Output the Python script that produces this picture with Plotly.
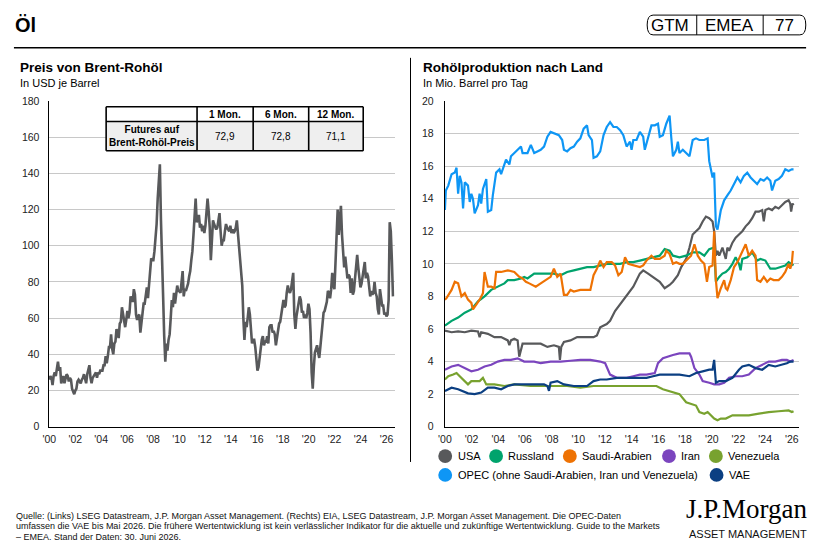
import plotly.graph_objects as go

W, H = 817, 557
FONT = "Liberation Sans, Arial, sans-serif"
NARROW = "Liberation Sans Narrow, Arial Narrow, Liberation Sans, Arial, sans-serif"

# ---------------- DATA ----------------
# Brent crude, USD per barrel, monthly Jan 2000 .. Jun 2026
brent = [
    26, 28, 27, 23, 28, 30, 28, 31, 36, 31, 33, 24,
    26, 28, 24, 27, 29, 28, 25, 27, 26, 21, 19, 18,
    20, 21, 25, 26, 25, 24, 26, 27, 29, 27, 24, 29,
    32, 34, 27, 24, 27, 28, 29, 30, 27, 30, 29, 31,
    31, 31, 34, 34, 39, 35, 39, 44, 44, 51, 43, 40,
    46, 47, 54, 51, 49, 57, 58, 66, 62, 58, 55, 59,
    64, 60, 63, 72, 70, 69, 76, 73, 62, 59, 61, 62,
    52, 58, 63, 68, 68, 72, 77, 71, 78, 85, 93, 92,
    92, 97, 104, 112, 126, 134, 145, 114, 98, 72, 50, 36,
    46, 42, 48, 51, 60, 70, 66, 74, 68, 75, 78, 75,
    75, 74, 80, 86, 72, 76, 75, 77, 79, 83, 86, 92,
    97, 106, 115, 126, 113, 114, 117, 110, 112, 108, 111, 107,
    111, 120, 126, 119, 110, 92, 103, 114, 112, 110, 109, 110,
    113, 118, 108, 100, 103, 103, 108, 112, 110, 109, 108, 111,
    107, 109, 107, 108, 110, 114, 107, 102, 96, 86, 78, 60,
    48, 58, 55, 60, 66, 62, 55, 46, 48, 48, 44, 37,
    31, 33, 39, 43, 48, 50, 45, 47, 47, 50, 46, 55,
    56, 56, 52, 53, 51, 45, 49, 52, 57, 58, 63, 66,
    70, 66, 67, 74, 78, 75, 74, 76, 80, 85, 62, 54,
    61, 65, 67, 72, 70, 63, 64, 60, 62, 60, 63, 68,
    65, 52, 30, 21, 33, 41, 43, 45, 41, 38, 44, 50,
    55, 63, 64, 66, 69, 75, 74, 71, 76, 85, 78, 76,
    89, 100, 120, 106, 113, 122, 106, 97, 88, 94, 87, 82,
    84, 83, 74, 82, 73, 75, 82, 87, 95, 88, 81, 77,
    79, 83, 86, 91, 82, 85, 83, 77, 72, 75, 73, 74,
    80, 74, 72, 65, 62, 76, 70, 67, 67, 62, 63, 61,
    62, 70, 113, 108, 92, 72,
]
brent_start, brent_end = 2000.0, 2026.5

# Production, million barrels per day: (years since 2000, value)
usa = [(0,5.9),(0.50,5.8),(0.99,5.85),(1.49,5.8),(1.98,5.9),(2.48,5.85),(2.60,5.5),(2.72,5.8),(3.22,5.7),(3.71,5.5),(4.21,5.5),(4.71,5.3),(4.83,5.0),(4.95,5.3),(5.20,5.4),(5.45,5.3),(5.57,4.3),(5.70,4.8),(5.82,5.1),(6.19,5.1),(6.69,5.1),(7.18,5.1),(7.68,4.9),(8.17,5.0),(8.54,4.9),(8.62,4.1),(8.72,4.9),(8.92,5.2),(9.41,5.3),(9.91,5.5),(10.40,5.5),(10.77,5.5),(11.14,5.5),(11.39,5.6),(11.64,6.1),(12.13,6.3),(12.38,6.5),(12.75,7.1),(13.13,7.5),(13.62,8.0),(14.12,8.6),(14.61,9.4),(14.86,9.6),(15.23,9.4),(15.60,9.2),(16.10,8.9),(16.47,8.5),(16.84,8.7),(17.09,8.9),(17.46,9.3),(17.71,9.8),(18.08,10.3),(18.33,11.0),(18.57,11.8),(18.82,12.0),(19.07,12.2),(19.32,12.6),(19.56,12.9),(19.81,12.8),(20.06,12.6),(20.18,12.0),(20.31,10.5),(20.43,10.8),(20.56,10.5),(20.80,11.0),(21.05,10.3),(21.17,11.0),(21.30,10.8),(21.55,11.3),(21.79,11.6),(22.04,11.8),(22.29,12.0),(22.54,12.3),(22.78,12.5),(23.03,12.8),(23.28,13.2),(23.53,13.2),(23.78,13.3),(23.90,12.6),(24.02,13.3),(24.27,13.4),(24.52,13.3),(24.76,13.5),(25.01,13.4),(25.26,13.6),(25.51,13.8),(25.76,13.9),(25.88,13.7),(25.95,13.2),(26.05,13.7),(26.13,13.6)]
russland = [(0,6.2),(0.50,6.5),(0.99,6.7),(1.49,7.0),(1.98,7.2),(2.48,7.7),(2.97,8.0),(3.47,8.4),(3.96,8.6),(4.46,8.8),(4.71,9.0),(5.20,9.0),(5.70,9.1),(5.94,9.2),(6.19,9.1),(6.69,9.4),(7.18,9.4),(7.68,9.4),(8.17,9.4),(8.67,9.3),(9.16,9.5),(9.66,9.6),(10.15,9.7),(10.65,9.8),(11.14,9.8),(11.64,9.9),(12.13,10.0),(12.63,10.0),(13.13,10.0),(13.62,10.1),(14.12,10.1),(14.61,10.2),(15.11,10.3),(15.60,10.4),(16.10,10.5),(16.47,10.9),(16.84,10.8),(17.09,10.5),(17.58,10.4),(18.08,10.5),(18.57,10.7),(19.07,10.7),(19.44,10.5),(19.81,10.9),(20.18,11.0),(20.31,8.9),(20.56,9.2),(20.80,9.4),(21.05,9.5),(21.30,9.7),(21.55,10.0),(21.79,10.4),(22.04,10.0),(22.16,9.6),(22.29,10.3),(22.66,10.4),(23.03,10.7),(23.40,10.2),(23.65,10.3),(24.02,10.2),(24.39,9.7),(24.76,9.7),(25.14,9.8),(25.51,9.9),(25.76,10.1),(26.00,10.0),(26.13,9.9)]
saudi = [(0,7.8),(0.12,7.9),(0.50,8.4),(0.74,8.9),(0.99,8.8),(1.24,8.0),(1.49,8.2),(1.73,7.8),(1.98,7.6),(2.10,7.2),(2.35,7.5),(2.60,7.8),(2.85,8.2),(2.97,9.5),(3.22,8.6),(3.47,8.6),(3.71,8.5),(3.84,9.5),(4.21,9.5),(4.71,9.6),(5.20,9.5),(5.57,9.2),(5.82,9.1),(6.07,8.9),(6.32,8.8),(6.56,8.7),(6.81,8.6),(7.18,8.8),(7.55,9.0),(7.92,9.2),(8.17,9.7),(8.42,9.2),(8.67,9.4),(8.92,8.1),(9.16,8.1),(9.41,8.4),(9.66,8.3),(10.15,8.4),(10.65,8.4),(10.90,8.4),(11.14,9.3),(11.39,9.7),(11.64,10.2),(11.89,9.8),(12.13,10.1),(12.50,10.1),(12.75,9.9),(13.00,9.3),(13.25,9.5),(13.50,10.4),(13.74,10.0),(14.12,9.9),(14.61,9.8),(14.86,9.9),(15.11,10.2),(15.48,10.5),(15.73,10.3),(16.10,10.3),(16.47,10.5),(16.59,10.8),(16.84,10.6),(17.09,10.0),(17.34,10.1),(17.58,10.0),(17.83,10.0),(18.20,10.3),(18.45,10.5),(18.70,11.2),(18.95,10.5),(19.19,10.2),(19.44,10.0),(19.64,8.9),(19.81,9.8),(20.06,9.9),(20.18,12.0),(20.31,9.0),(20.43,7.9),(20.68,8.5),(20.93,9.0),(21.05,8.5),(21.17,8.4),(21.42,9.0),(21.67,9.8),(21.92,10.1),(22.16,10.5),(22.54,11.2),(22.78,10.5),(23.03,10.8),(23.28,10.5),(23.40,9.0),(23.65,8.9),(23.90,9.2),(24.15,8.9),(24.39,9.1),(24.64,9.0),(25.01,9.0),(25.26,9.2),(25.51,9.5),(25.76,10.0),(25.88,9.7),(26.00,10.0),(26.08,10.8)]
iran = [(0,3.5),(0.50,3.7),(0.99,3.8),(1.49,3.6),(1.98,3.4),(2.48,3.5),(2.97,3.7),(3.47,3.8),(3.96,4.0),(4.46,4.1),(4.95,4.1),(5.45,4.2),(5.94,4.0),(6.69,4.0),(7.18,3.9),(7.92,4.0),(8.67,4.0),(9.41,4.05),(10.15,4.1),(10.90,4.1),(11.64,4.0),(12.01,3.9),(12.38,3.2),(12.88,3.0),(13.62,3.0),(14.12,3.1),(14.61,3.2),(15.11,3.2),(15.73,3.3),(15.97,3.9),(16.34,4.2),(17.09,4.4),(17.58,4.5),(18.08,4.5),(18.33,4.5),(18.45,4.3),(18.70,3.6),(19.07,3.2),(19.32,2.8),(19.81,2.7),(20.18,2.6),(20.56,2.6),(20.93,2.7),(21.30,3.0),(21.79,3.1),(22.29,3.1),(22.78,3.2),(23.28,3.6),(23.78,3.8),(24.27,4.0),(24.76,4.0),(25.26,4.1),(25.63,4.1),(25.88,4.0),(26.13,4.1)]
venezuela = [(0,2.9),(0.25,3.1),(0.62,3.2),(0.87,3.3),(1.11,3.1),(1.49,2.8),(1.73,2.6),(1.98,2.8),(2.35,2.8),(2.60,2.8),(2.85,3.0),(3.10,2.6),(3.34,2.6),(3.71,2.6),(4.46,2.5),(5.20,2.6),(6.44,2.5),(7.68,2.5),(9.16,2.5),(10.15,2.4),(11.14,2.5),(12.63,2.5),(14.61,2.5),(15.85,2.5),(16.34,2.3),(17.09,2.1),(17.58,2.0),(18.08,1.5),(18.82,1.3),(19.07,0.9),(19.44,0.8),(19.69,0.9),(19.93,0.7),(20.18,0.5),(20.43,0.4),(20.68,0.5),(21.05,0.5),(21.55,0.7),(22.04,0.7),(22.78,0.7),(23.53,0.8),(24.27,0.9),(25.01,0.95),(25.51,1.0),(25.76,1.0),(26.00,0.9),(26.13,0.95)]
opec = [(0,13.3),(0.07,14.5),(0.25,14.8),(0.5,15.5),(0.74,15.6),(0.87,15.9),(0.99,14.3),(1.11,15.4),(1.24,15.0),(1.36,13.4),(1.49,15.0),(1.73,14.8),(1.86,13.8),(1.98,14.3),(2.10,14.0),(2.23,13.1),(2.48,13.6),(2.60,14.3),(2.72,13.7),(2.85,14.6),(3.10,15.2),(3.22,13.2),(3.47,13.3),(3.59,14.2),(3.84,15.6),(4.09,15.8),(4.21,15.5),(4.46,16.2),(4.58,16.4),(4.83,16.1),(4.95,16.6),(5.20,16.8),(5.45,17.0),(5.70,17.2),(5.82,16.8),(6.19,16.8),(6.44,17.3),(6.69,16.8),(6.93,16.9),(7.18,17.0),(7.43,17.2),(7.68,17.8),(7.92,18.1),(8.17,18.0),(8.54,17.9),(8.79,17.6),(8.92,17.0),(9.16,16.9),(9.41,17.1),(9.66,17.2),(9.91,17.5),(10.15,17.7),(10.40,18.3),(10.65,18.5),(10.77,17.9),(11.02,17.6),(11.14,16.5),(11.39,16.6),(11.64,16.9),(11.89,17.9),(12.13,18.4),(12.38,18.7),(12.63,18.4),(12.88,18.4),(13.13,18.2),(13.37,17.9),(13.62,17.2),(13.87,17.5),(13.99,17.0),(14.12,17.6),(14.36,17.6),(14.61,18.1),(14.86,17.8),(14.98,17.0),(15.23,17.8),(15.48,18.5),(15.73,18.5),(15.97,18.6),(16.10,17.8),(16.34,17.9),(16.59,18.6),(16.84,19.1),(16.96,17.8),(17.09,16.6),(17.34,17.0),(17.46,17.5),(17.58,16.8),(17.83,17.0),(18.08,16.8),(18.33,16.6),(18.57,17.6),(18.82,17.7),(19.07,17.6),(19.44,17.6),(19.69,17.7),(19.81,16.3),(20.06,15.3),(20.18,15.6),(20.31,12.3),(20.43,12.1),(20.68,13.3),(20.93,13.9),(21.17,14.2),(21.42,14.5),(21.67,14.9),(21.92,15.3),(22.16,15.0),(22.41,15.4),(22.66,15.6),(22.91,15.3),(23.15,15.1),(23.40,14.9),(23.65,15.2),(23.90,15.1),(24.15,15.3),(24.39,15.1),(24.52,14.5),(24.76,15.1),(25.01,15.2),(25.26,15.4),(25.51,15.8),(25.76,15.7),(26.00,15.8),(26.13,15.8)]
vae = [(0,2.2),(0.50,2.4),(0.99,2.3),(1.24,2.2),(1.73,2.05),(2.23,2.0),(2.72,2.1),(3.22,2.4),(3.71,2.4),(4.21,2.3),(4.71,2.5),(5.20,2.6),(5.94,2.6),(6.69,2.6),(7.43,2.6),(7.68,2.5),(7.80,2.2),(7.92,2.7),(8.42,2.8),(8.92,2.6),(9.66,2.5),(10.65,2.5),(11.14,2.8),(11.64,2.9),(12.13,2.9),(12.88,3.0),(13.62,3.0),(14.36,3.0),(15.11,3.0),(15.60,3.1),(16.10,3.2),(16.59,3.2),(17.09,3.2),(17.58,3.2),(18.33,3.1),(18.82,3.3),(19.32,3.4),(19.81,3.5),(20.06,3.5),(20.18,4.1),(20.31,2.7),(20.56,2.8),(21.05,2.8),(21.55,3.0),(22.04,3.5),(22.29,3.7),(22.78,3.8),(23.28,3.6),(23.78,3.5),(24.27,3.8),(24.76,3.7),(25.26,3.8),(25.63,3.9),(25.88,4.0),(26.13,4.0)]

series_names = ["USA", "Russland", "Saudi-Arabien", "Iran", "Venezuela",
                "OPEC (ohne Saudi-Arabien, Iran und Venezuela)", "VAE"]
series_data = [usa, russland, saudi, iran, venezuela, opec, vae]
series_colors = ["#58595B", "#00A36C", "#EE7203", "#7B45BE", "#78A22F", "#0E96F5", "#0B3F82"]

year_ticks = list(range(2000, 2027, 2))
year_labels = ["'" + str(y)[2:] for y in year_ticks]

futures_cols = ["1 Mon.", "6 Mon.", "12 Mon."]
futures_vals = ["72,9", "72,8", "71,1"]

# ---------------- HELPERS ----------------
def X(p):
    return p / W

def Y(p):
    return 1 - p / H

fig = go.Figure()

n = len(brent)
brent_x = [brent_start + i * (brent_end - brent_start) / (n - 1) for i in range(n)]
fig.add_trace(go.Scatter(x=brent_x, y=brent, mode="lines",
                         line=dict(color="#58595B", width=2.6),
                         xaxis="x", yaxis="y", showlegend=False, hoverinfo="skip"))

for name, data, col in zip(series_names, series_data, series_colors):
    fig.add_trace(go.Scatter(x=[2000 + t for t, v in data], y=[v for t, v in data],
                             mode="lines", name=name, line=dict(color=col, width=2.2),
                             xaxis="x2", yaxis="y2", showlegend=False, hoverinfo="skip"))

ydom = [Y(430), Y(97)]
axis_common = dict(showline=True, linecolor="black", linewidth=1.2, ticks="",
                   tickfont=dict(family=FONT, size=10.5, color="#222222"),
                   zeroline=False, fixedrange=True)

fig.update_layout(
    width=W, height=H, margin=dict(l=0, r=0, t=0, b=0),
    paper_bgcolor="white", plot_bgcolor="white", showlegend=False, hovermode=False,
    xaxis=dict(domain=[X(42), X(391)], range=[1999.95, 2026.63], tickvals=year_ticks,
               ticktext=year_labels, showgrid=False, anchor="y", ticklabelstandoff=3, **axis_common),
    yaxis=dict(domain=ydom, range=[0, 180], dtick=20, showgrid=True, gridcolor="#C8C8C8",
               gridwidth=1, anchor="x", ticklabelstandoff=6, **axis_common),
    xaxis2=dict(domain=[X(441.7), X(799)], range=[2000, 2026.55], tickvals=year_ticks,
                ticktext=year_labels, showgrid=False, anchor="y2", ticklabelstandoff=3, **axis_common),
    yaxis2=dict(domain=ydom, range=[0, 20], dtick=2, showgrid=True, gridcolor="#C8C8C8",
                gridwidth=1, anchor="x2", ticklabelstandoff=8, **axis_common),
)

shapes = []
ann = []

def line(x0, y0, x1, y1, w=1, c="black"):
    shapes.append(dict(type="line", xref="paper", yref="paper", x0=X(x0), y0=Y(y0),
                       x1=X(x1), y1=Y(y1), line=dict(color=c, width=w), layer="above"))

def text(x, y, s, size, bold=False, anchor="left", color="#000000", family=FONT):
    if bold:
        s = "<b>" + s + "</b>"
    ann.append(dict(x=X(x), y=Y(y), xref="paper", yref="paper", text=s, showarrow=False,
                    xanchor=anchor, yanchor="middle", align="center" if anchor == "center" else "left",
                    font=dict(family=family, size=size, color=color)))

# header
text(6, 19, "Öl", 20, bold=True)
line(7, 42.7, 806, 42.7, 1.6)
line(407, 53, 407, 466, 1)

# badge
bx0, bx1, by0, by1, r = 645.7, 805.7, 9.3, 29.5, 6
path = (f"M {X(bx0 + r)},{Y(by0)} L {X(bx1 - r)},{Y(by0)} "
        f"Q {X(bx1)},{Y(by0)} {X(bx1)},{Y((by0 + by1) / 2)} "
        f"Q {X(bx1)},{Y(by1)} {X(bx1 - r)},{Y(by1)} L {X(bx0 + r)},{Y(by1)} "
        f"Q {X(bx0)},{Y(by1)} {X(bx0)},{Y((by0 + by1) / 2)} "
        f"Q {X(bx0)},{Y(by0)} {X(bx0 + r)},{Y(by0)} Z")
shapes.append(dict(type="path", xref="paper", yref="paper", path=path,
                   line=dict(color="black", width=1), layer="above"))
line(695.7, 9.3, 695.7, 29.5, 1)
line(762.7, 9.3, 762.7, 29.5, 1)
text(668.5, 19.8, "GTM", 17, anchor="center", family=NARROW)
text(729, 19.8, "EMEA", 17, anchor="center", family=NARROW)
text(784, 19.8, "77", 17, anchor="center", family=NARROW)

# panel titles
text(11, 63, "Preis von Brent-Rohöl", 13.5, bold=True)
text(11, 79, "In USD je Barrel", 11)
text(418, 63, "Rohölproduktion nach Land", 13.5, bold=True)
text(418, 79, "In Mio. Barrel pro Tag", 11)

# futures table
tx = [100, 191.7, 248.3, 304.3, 359.3]
ty = [103, 118, 148]
shapes.append(dict(type="rect", xref="paper", yref="paper", x0=X(tx[0]), x1=X(tx[4]),
                   y0=Y(ty[0]), y1=Y(ty[1]), fillcolor="white", line=dict(width=0), layer="above"))
shapes.append(dict(type="rect", xref="paper", yref="paper", x0=X(tx[0]), x1=X(tx[4]),
                   y0=Y(ty[1]), y1=Y(ty[2]), fillcolor="#EFEFEF", line=dict(width=0), layer="above"))
for yy in ty:
    line(tx[0], yy, tx[4], yy, 1.6)
for xx in tx:
    line(xx, ty[0], xx, ty[2], 1.6)
for i, (c, v) in enumerate(zip(futures_cols, futures_vals)):
    cx = (tx[i + 1] + tx[i + 2]) / 2
    text(cx, (ty[0] + ty[1]) / 2 + 0.5, c, 10, bold=True, anchor="center")
    text(cx, (ty[1] + ty[2]) / 2, v, 10, anchor="center")
text((tx[0] + tx[1]) / 2, (ty[1] + ty[2]) / 2, "Futures auf<br>Brent-Rohöl-Preis", 10,
     bold=True, anchor="center")

# legend (custom, circles)
legend_pos = [(442, 460, 452.5), (493.3, 460, 503.5), (567.7, 460, 577.8), (667.7, 460, 677.8),
              (715, 460, 725.7), (442, 479.3, 452.5), (715.7, 479.3, 726)]
for (cx, cy, tx0), name, col in zip(legend_pos, series_names, series_colors):
    shapes.append(dict(type="circle", xref="paper", yref="paper", x0=X(cx - 7), x1=X(cx + 7),
                       y0=Y(cy + 7), y1=Y(cy - 7), fillcolor=col, line=dict(width=0), layer="above"))
    text(tx0, cy, name, 11)

# footer
foot = [
    "Quelle: (Links) LSEG Datastream, J.P. Morgan Asset Management. (Rechts) EIA, LSEG Datastream, J.P. Morgan Asset Management. Die OPEC-Daten",
    "umfassen die VAE bis Mai 2026. Die frühere Wertentwicklung ist kein verlässlicher Indikator für die aktuelle und zukünftige Wertentwicklung. Guide to the Markets",
    "– EMEA. Stand der Daten: 30. Juni 2026.",
]
for i, s in enumerate(foot):
    text(7, 521 + i * 10.6, s, 9, color="#111111")

# logo
text(746, 514, "J.P.Morgan", 27, anchor="center", family="Liberation Serif, Times New Roman, serif")
text(747, 539.5, "ASSET MANAGEMENT", 11, anchor="center", color="#111111")

fig.update_layout(shapes=shapes, annotations=ann)
fig.write_html("out.html")
